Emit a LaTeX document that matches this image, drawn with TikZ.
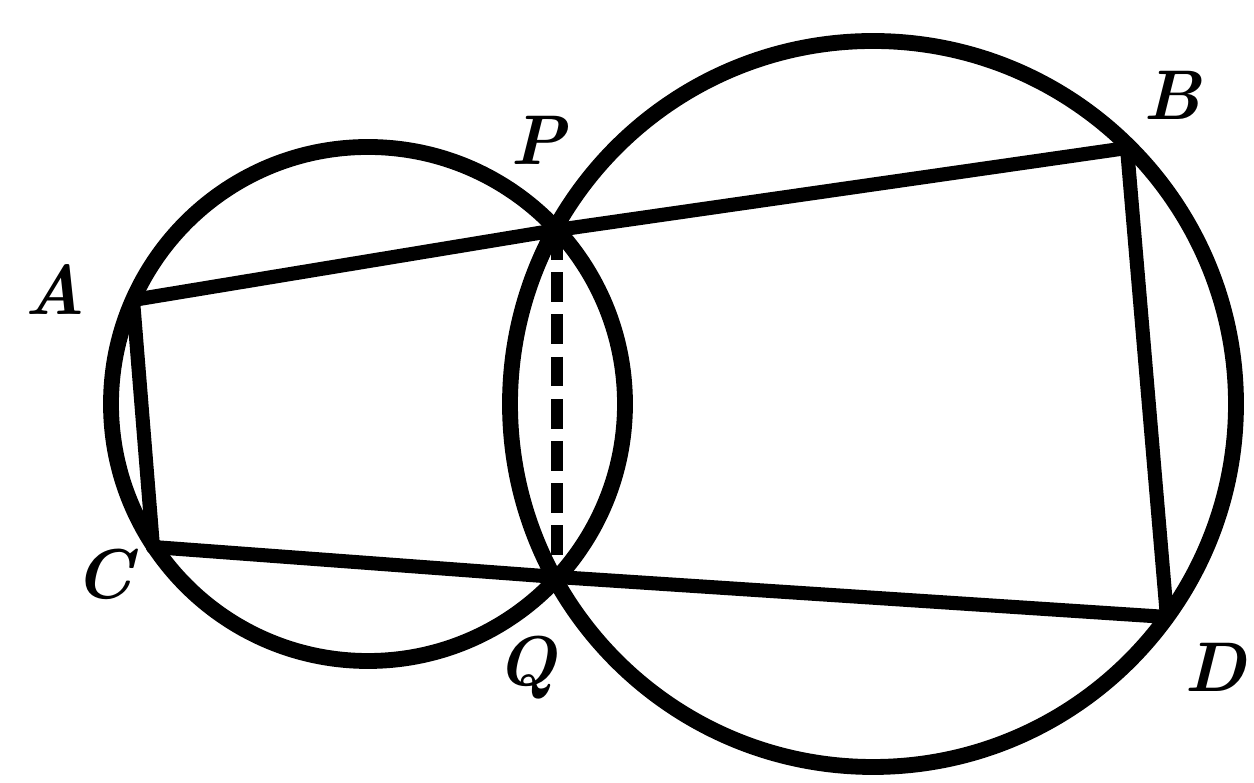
\documentclass[tikz,border=0pt]{standalone}
\begin{document}
\begin{tikzpicture}[x=0.01cm,y=-0.01cm,
  circ/.style={line width=4.5pt},
  seg/.style={line width=4pt,line cap=round},
  dashseg/.style={line width=3.3pt,dash pattern=on 8.5pt off 3.5pt},
  lbl/.style={font=\fontsize{20}{24}\selectfont\bfseries\itshape,inner sep=0pt}]
\useasboundingbox (0,0) rectangle (1254,783);
% centres of the circles
\coordinate (cL) at (368,404);
\coordinate (cR) at (873,404);
% points
\coordinate (A) at (133,300);
\coordinate (P) at (557,230);
\coordinate (B) at (1127,148);
\coordinate (C) at (153,547);
\coordinate (Q) at (557,577);
\coordinate (D) at (1167,617);
% circles
\draw[circ] (cL) circle[radius=257];
\draw[circ] (cR) circle[radius=363];
% segments
\draw[seg] (A) -- (P) -- (B);
\draw[seg] (C) -- (Q) -- (D);
\draw[seg] (A) -- (C);
\draw[seg] (B) -- (D);
\draw[dashseg] (P) -- (Q);
% labels
\node[lbl] (lA) at (55,290) {A};
\node[lbl] (lP) at (538,140) {P};
\node[lbl] (lB) at (1172,95) {B};
\node[lbl] (lC) at (104,574) {C};
\node[lbl] (lQ) at (527,668) {Q};
\node[lbl] (lD) at (1215,667) {D};
\end{tikzpicture}
\end{document}
